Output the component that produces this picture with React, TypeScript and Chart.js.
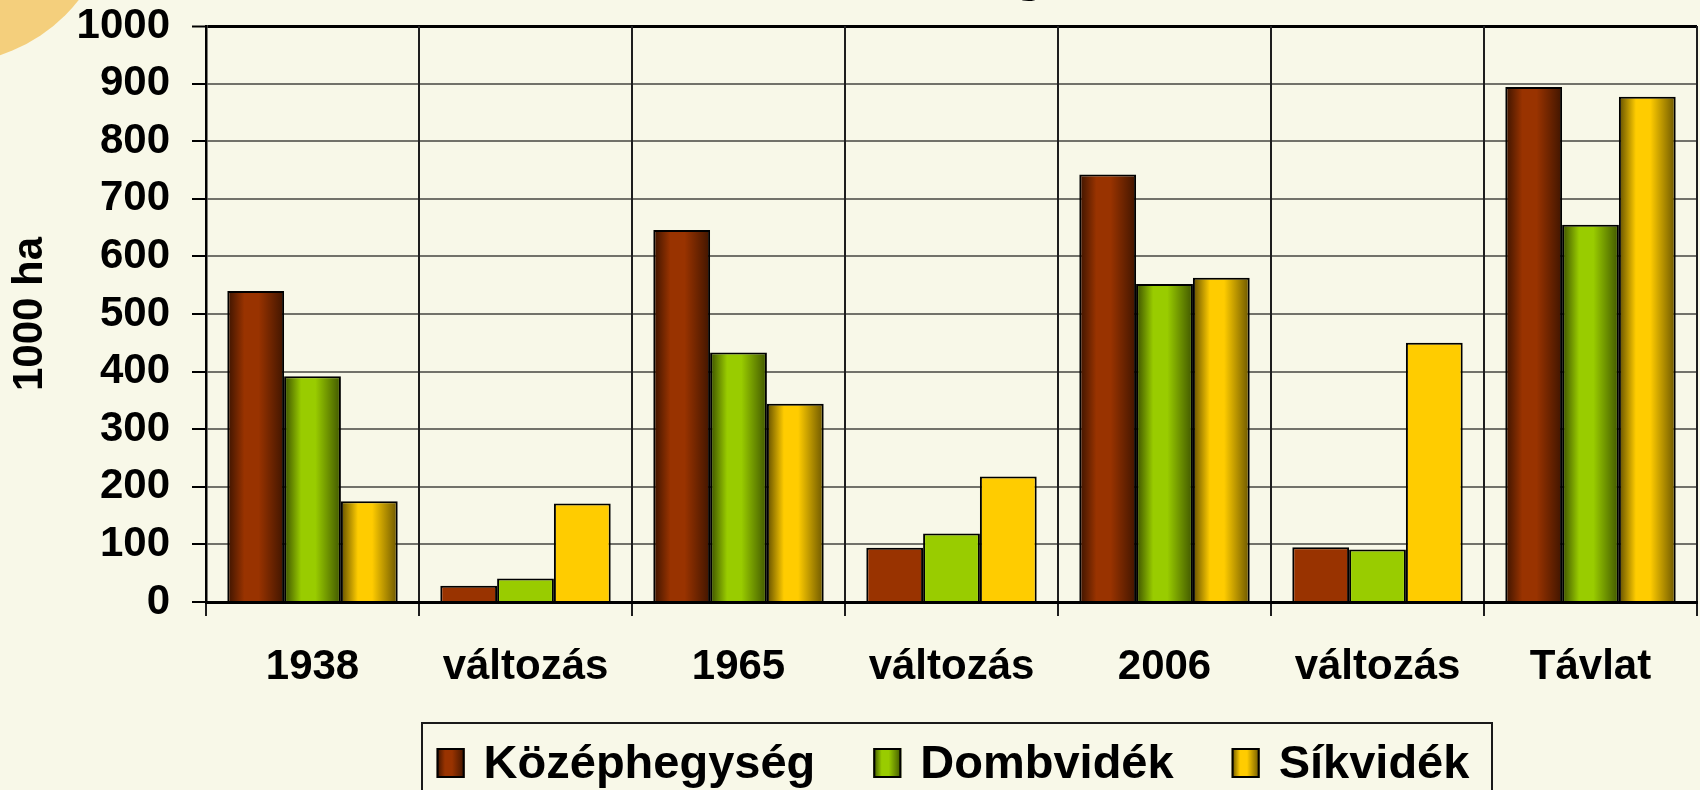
import React, { useEffect, useRef } from "react";
import { Chart, registerables } from "chart.js";

Chart.register(...registerables);

// ---- data ----
const categories = ["1938", "változás", "1965", "változás", "2006", "változás", "Távlat"];
const seriesNames = ["Középhegység", "Dombvidék", "Síkvidék"];
const kozephegyseg = [540, 28, 646, 94, 742, 95, 894];
const dombvidek = [392, 41, 433, 119, 552, 91, 655];
const sikvidek = [175, 171, 344, 218, 563, 450, 877];
const yMin = 0;
const yMax = 1000;
const yStep = 100;
const yTitle = "1000 ha";
const seriesColors = ["#993300", "#99cc00", "#ffcc00"];
const shadedCategories = [true, false, true, false, true, false, true];

const FONT = '"Liberation Sans", Arial, Helvetica, sans-serif';
const BG = "#f8f8e8";

function hexToRgb(h: string): number[] {
  const v = h.replace("#", "");
  return [0, 2, 4].map((i) => parseInt(v.slice(i, i + 2), 16));
}
function shade(rgb: number[], f: number): string {
  return `rgb(${Math.round(rgb[0] * f)},${Math.round(rgb[1] * f)},${Math.round(rgb[2] * f)})`;
}
function cylinder(ctx: CanvasRenderingContext2D, x0: number, x1: number, hex: string) {
  const rgb = hexToRgb(hex);
  const g = ctx.createLinearGradient(x0, 0, x1, 0);
  g.addColorStop(0, shade(rgb, 0.38));
  g.addColorStop(0.3, hex);
  g.addColorStop(0.55, hex);
  g.addColorStop(1, shade(rgb, 0.42));
  return g;
}

const backgroundPlugin = {
  id: "bgDeco",
  beforeDraw(chart: any) {
    const ctx = chart.ctx as CanvasRenderingContext2D;
    ctx.save();
    ctx.fillStyle = BG;
    ctx.fillRect(0, 0, chart.width, chart.height);
    ctx.beginPath();
    ctx.arc(-50, -100, 163, 0, Math.PI * 2);
    ctx.fillStyle = "#f4cf7c";
    ctx.fill();
    // cut-off title glyph at the very top
    ctx.fillStyle = "#000";
    ctx.font = `bold 60px ${FONT}`;
    ctx.textAlign = "center";
    ctx.textBaseline = "alphabetic";
    ctx.fillText("g", 1029, -10.6);
    ctx.restore();
  },
};

const legendPlugin = {
  id: "boxLegend",
  afterDraw(chart: any) {
    const ctx = chart.ctx as CanvasRenderingContext2D;
    const ds = chart.data.datasets;
    ctx.save();
    ctx.font = `bold 47px ${FONT}`;
    const sw = 28;
    const sh = 30;
    const gapText = 19;
    const gapItem = 58;
    const widths = ds.map((d: any) => ctx.measureText(d.label).width);
    const total =
      widths.reduce((a: number, w: number) => a + sw + gapText + w, 0) + gapItem * (ds.length - 1);
    const boxL = 422;
    const boxR = 1492;
    const boxT = 723;
    ctx.strokeStyle = "#1a1a1a";
    ctx.lineWidth = 2;
    ctx.strokeRect(boxL, boxT, boxR - boxL, 120);
    let x = (boxL + boxR) / 2 - total / 2 - 4;
    const baseline = 778;
    ds.forEach((d: any, i: number) => {
      ctx.fillStyle = cylinder(ctx, x, x + sw, seriesColors[i]);
      ctx.fillRect(x, baseline - sh, sw, sh);
      ctx.strokeStyle = "#000";
      ctx.lineWidth = 2;
      ctx.strokeRect(x + 1, baseline - sh + 1, sw - 2, sh - 2);
      ctx.fillStyle = "#000";
      ctx.textAlign = "left";
      ctx.textBaseline = "alphabetic";
      ctx.fillText(d.label, x + sw + gapText, baseline);
      x += sw + gapText + widths[i] + gapItem;
    });
    ctx.restore();
  },
};

function makeBg(i: number) {
  return (c: any) => {
    const hex = seriesColors[i];
    if (c.type !== "data" || !shadedCategories[c.dataIndex]) return hex;
    const xs = c.chart.scales && c.chart.scales.x;
    if (!xs || !(xs.width > 0)) return hex;
    const catW = xs.width / categories.length;
    const center = xs.getPixelForValue(c.dataIndex);
    const barW = (catW * 0.8) / 3;
    const left = center - catW * 0.4 + i * barW;
    return cylinder(c.chart.ctx, left, left + barW, hex);
  };
}

export default function App() {
  const ref = useRef<HTMLCanvasElement | null>(null);
  useEffect(() => {
    if (!ref.current) return;
    const series = [kozephegyseg, dombvidek, sikvidek];
    const chart = new Chart(ref.current, {
      type: "bar",
      data: {
        labels: categories,
        datasets: series.map((vals, i) => ({
          label: seriesNames[i],
          data: vals,
          backgroundColor: makeBg(i),
          borderColor: "#000",
          borderWidth: 2,
          categoryPercentage: 0.8,
          barPercentage: 1.0,
        })),
      },
      options: {
        animation: false,
        responsive: false,
        devicePixelRatio: 1,
        events: [],
        layout: { padding: { top: 26, right: 3, left: 0, bottom: 0 } },
        plugins: {
          legend: { display: false },
          tooltip: { enabled: false },
          title: { display: false },
        },
        scales: {
          x: {
            grid: {
              offset: true,
              color: "#1e1e1e",
              lineWidth: 2,
              tickLength: 14,
              tickColor: "#1e1e1e",
              tickWidth: 2,
              z: -1,
            },
            border: { display: true, color: "#000", width: 3 },
            ticks: {
              color: "#000",
              font: { family: FONT, size: 42, weight: "bold" },
              padding: 26,
              maxRotation: 0,
              autoSkip: false,
            },
            afterFit: (s: any) => {
              s.height = 188;
              s.paddingLeft = 0;
              s.paddingRight = 0;
            },
          },
          y: {
            min: yMin,
            max: yMax,
            ticks: {
              stepSize: yStep,
              color: "#000",
              font: { family: FONT, size: 42, weight: "bold" },
              padding: 22,
              callback: (v: any) => String(v),
            },
            grid: {
              color: (c: any) =>
                c.tick && (c.tick.value === yMax || c.tick.value === yMin) ? "#000" : "#72726a",
              lineWidth: (c: any) => (c.tick && c.tick.value === yMax ? 3 : 2),
              tickColor: "#000",
              tickWidth: 2,
              tickLength: 14,
              z: -2,
            },
            border: { display: true, color: "#000", width: 2.5 },
            title: {
              display: true,
              text: yTitle,
              color: "#000",
              font: { family: FONT, size: 42, weight: "bold" },
              padding: { top: 5, bottom: 0 },
            },
            afterFit: (s: any) => {
              s.width = 206;
              s.paddingTop = 0;
              s.paddingBottom = 0;
            },
          },
        },
      },
      plugins: [backgroundPlugin, legendPlugin],
    } as any);
    return () => chart.destroy();
  }, []);
  return (
    <div style={{ position: "fixed", left: 0, top: 0, width: 1700, height: 790, background: BG }}>
      <canvas ref={ref} width={1700} height={790} style={{ display: "block" }} />
    </div>
  );
}
